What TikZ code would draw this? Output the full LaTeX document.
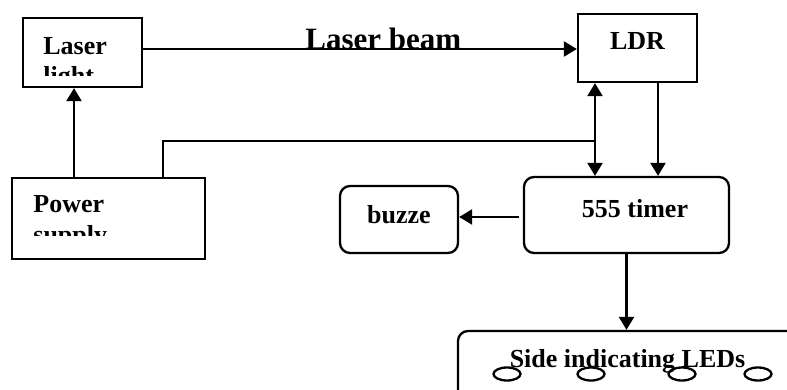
\documentclass[tikz,border=0pt]{standalone}
\usepackage{fontspec}
\setmainfont{Liberation Serif}
\usetikzlibrary{arrows.meta,positioning,shapes.geometric}

\begin{document}
\begin{tikzpicture}[
    x=0.5pt, y=-0.5pt,
    every node/.style={font=\fontsize{13}{15}\selectfont\bfseries, inner sep=0pt},
    block/.style={draw, line width=1.15pt, minimum width=#1},
    block/.default=59.5pt,
    rblock/.style={block=#1, rounded corners=5pt},
    lbl/.style={anchor=base west},
    led/.style={draw, line width=1.15pt, ellipse, minimum width=13.5pt, minimum height=6.5pt},
    flow/.style={-{Triangle[length=6.5pt,width=7.5pt]}, line width=1.15pt},
    both/.style={{Triangle[length=6.5pt,width=7.5pt]}-{Triangle[length=6.5pt,width=7.5pt]}, line width=1.15pt},
    wire/.style={line width=1.15pt}
]
\clip (0,0) rectangle (787,390);
% blocks
\node[block=59.5pt, minimum height=34.5pt] (laser) at (82.5,52.5) {};
\node[block=59.5pt, minimum height=34pt] (ldr) at (637.5,48) {};
\node[block=96.5pt, minimum height=40.5pt] (power) at (108.5,218.5) {};
\node[rblock=59pt, minimum height=33.5pt] (buzz) at (399,219.5) {};
\node[rblock=102.5pt, minimum height=38pt] (timer) at (626.5,215) {};
\node[rblock=181pt, minimum height=49.5pt] (leds) at (639,380.5) {};
% texts
\node[lbl] (lasertxt) at (43,55) {Laser};
\begin{scope}
\clip (23,18) rectangle (142,76);
\node[lbl] (lighttxt) at (43,85) {light};
\end{scope}
\node[lbl] (powertxt) at (33,213) {Power};
\begin{scope}
\clip (12,178) rectangle (205,235);
\node[lbl] (supplytxt) at (33,243) {supply};
\end{scope}
\node[anchor=base] (ldrtxt) at (637.5,50) {LDR};
\node[anchor=base] (buzztxt) at (399,223) {buzze};
\node[anchor=base] (timertxt) at (635,217) {555 timer};
\node[anchor=base] (ledtxt) at (627.5,367) {Side indicating LEDs};
\node[lbl, font=\fontsize{15.5}{18}\selectfont\bfseries] (beam) at (305,50) {Laser beam};
% LEDs
\foreach \x [count=\i] in {507,591,682,758}
  \node[led] (e\i) at (\x,374) {};
% connectors
\coordinate (pw) at (74,130);
\coordinate (feed) at (163,141);
\coordinate (tap) at (595,141);
\coordinate (sig) at (658,120);
\draw[flow] (laser.east |- 0,49) -- (ldr.west |- 0,49);
\draw[flow] (pw |- power.north) -- (pw |- laser.south);
\draw[wire] (feed |- power.north) -- (feed) -- (tap);
\draw[both] (tap |- ldr.south) -- (tap |- timer.north);
\draw[flow] (sig |- ldr.south) -- (sig |- timer.north);
\draw[flow] ([xshift=-2pt]timer.west |- 0,217) -- (buzz.east |- 0,217);
\draw[flow] (timer.south) -- (timer.south |- leds.north);
\end{tikzpicture}
\end{document}
